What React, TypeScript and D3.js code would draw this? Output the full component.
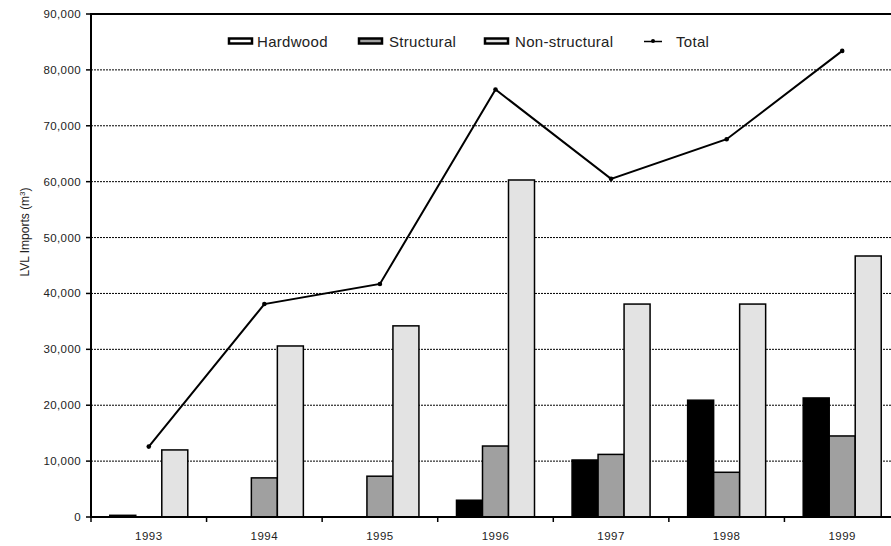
import React from "react";
import * as d3 from "d3";

const years = ["1993", "1994", "1995", "1996", "1997", "1998", "1999"];
const seriesNames = ["Hardwood", "Structural", "Non-structural"];
const hardwood = [300, 0, 0, 3000, 10200, 20900, 21300];
const structural = [0, 7000, 7300, 12700, 11200, 8000, 14500];
const nonStructural = [12000, 30600, 34200, 60300, 38100, 38100, 46700];
const total = [12600, 38100, 41700, 76500, 60500, 67600, 83400];
const yTicks = [0, 10000, 20000, 30000, 40000, 50000, 60000, 70000, 80000, 90000];

const fills = ["#000000", "#a0a0a0", "#e3e3e3"];
const FONT = "Liberation Sans, Arial, sans-serif";

export default function App() {
  const W = 891, H = 546;
  const left = 91, right = 900, top = 14, bottom = 517;
  const x = d3.scaleBand<string>().domain(years).range([left, right]).paddingInner(0.325).paddingOuter(0.1625);
  const xs = d3.scaleBand<string>().domain(seriesNames).range([0, x.bandwidth()]);
  const y = d3.scaleLinear().domain([0, 90000]).range([bottom, top]);
  const step = x.step();
  const values = [hardwood, structural, nonStructural];
  const line = d3.line<number>().x((_, i) => (x(years[i]) as number) + x.bandwidth() / 2).y((d) => y(d));
  const fmt = d3.format(",");

  const legendItems = [
    { name: "Hardwood", sx: 228, tx: 257, fill: "#ffffff" },
    { name: "Structural", sx: 358, tx: 389, fill: "#a0a0a0" },
    { name: "Non-structural", sx: 484, tx: 515, fill: "#e3e3e3" },
  ];

  return (
    <svg width={W} height={H} style={{ position: "fixed", left: 0, top: 0, background: "#fff" }} fontFamily={FONT}>
      <rect x={0} y={0} width={W} height={H} fill="#fff" />
      {/* gridlines */}
      {yTicks.filter((t) => t > 0 && t < 90000).map((t) => (
        <line key={t} x1={left} x2={right} y1={y(t)} y2={y(t)} stroke="#000" strokeWidth={1} strokeDasharray="2,1" />
      ))}
      {/* top border */}
      <line x1={left} x2={right} y1={y(90000)} y2={y(90000)} stroke="#000" strokeWidth={2} />
      {/* bars */}
      {years.map((yr, i) => (
        <g key={yr}>
          {values.map((vals, s) => vals[i] > 0 ? (
            <rect key={s}
              x={(x(yr) as number) + (xs(seriesNames[s]) as number)}
              y={y(vals[i])}
              width={xs.bandwidth()}
              height={bottom - y(vals[i])}
              fill={fills[s]} stroke="#000" strokeWidth={1.5} />
          ) : null)}
        </g>
      ))}
      {/* total line */}
      <path d={line(total) || ""} fill="none" stroke="#000" strokeWidth={2} />
      {total.map((v, i) => (
        <circle key={i} cx={(x(years[i]) as number) + x.bandwidth() / 2} cy={y(v)} r={2.3} fill="#000" />
      ))}
      {/* y axis */}
      <line x1={left} x2={left} y1={top - 1} y2={bottom + 1} stroke="#000" strokeWidth={2} />
      {yTicks.map((t) => (
        <g key={t}>
          <line x1={left - 5} x2={left} y1={y(t)} y2={y(t)} stroke="#000" strokeWidth={1.5} />
          <text x={left - 10} y={y(t)} dy="0.35em" textAnchor="end" fontSize={11.5} letterSpacing={0.4} fill="#222">{fmt(t)}</text>
        </g>
      ))}
      {/* x axis */}
      <line x1={left} x2={right} y1={bottom} y2={bottom} stroke="#000" strokeWidth={2} />
      {d3.range(years.length + 1).map((i) => (
        <line key={i} x1={left + i * step} x2={left + i * step} y1={bottom} y2={bottom + 5} stroke="#000" strokeWidth={1.5} />
      ))}
      {years.map((yr) => (
        <text key={yr} x={(x(yr) as number) + x.bandwidth() / 2} y={540} textAnchor="middle" fontSize={11.5} letterSpacing={0.5} fill="#222">{yr}</text>
      ))}
      {/* y label */}
      <text transform={`translate(29,232) rotate(-90)`} textAnchor="middle" fontSize={12} fill="#222">
        LVL Imports (m<tspan dy={-4} fontSize={8}>3</tspan><tspan dy={4}>)</tspan>
      </text>
      {/* legend */}
      {legendItems.map((l) => (
        <g key={l.name}>
          <rect x={l.sx + 1} y={38.5} width={23} height={5} fill={l.fill} stroke="#000" strokeWidth={2.5} />
          <text x={l.tx} y={41.5} dy="0.35em" fontSize={15} letterSpacing={0.3} fill="#222">{l.name}</text>
        </g>
      ))}
      <line x1={644} x2={662} y1={41.5} y2={41.5} stroke="#000" strokeWidth={1.5} />
      <circle cx={653} cy={41} r={2} fill="#000" />
      <text x={676} y={41.5} dy="0.35em" fontSize={15} letterSpacing={0.3} fill="#222">Total</text>
    </svg>
  );
}
